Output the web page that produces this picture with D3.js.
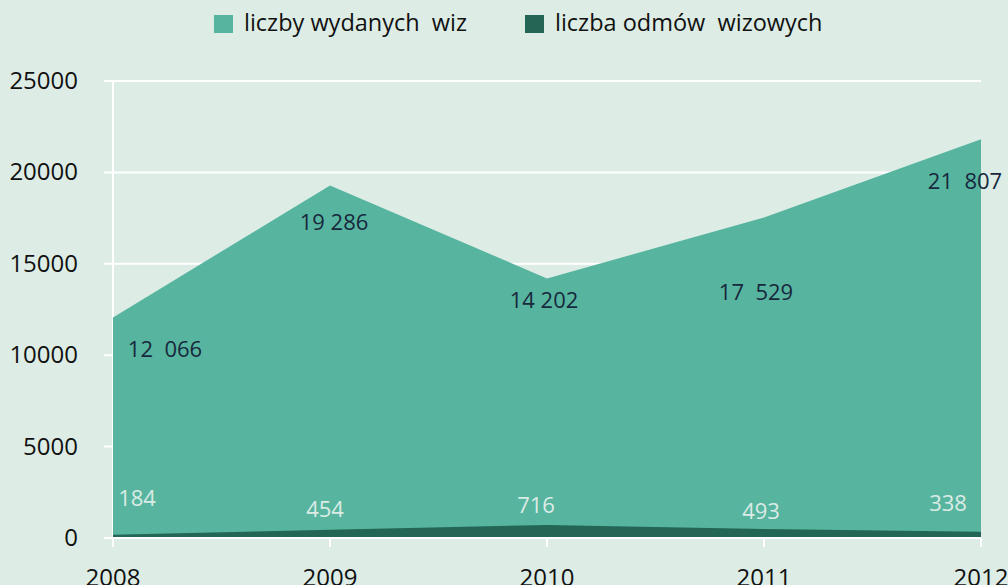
<!DOCTYPE html>
<html>
<head>
<meta charset="utf-8">
<script src="https://cdn.jsdelivr.net/npm/d3@7"></script>
<style>
  body { margin: 0; background: #ddede6; overflow: hidden; }
  text { font-family: "Open Sans", sans-serif; white-space: pre; }
</style>
</head>
<body>
<script>
// data
let years = [2008, 2009, 2010, 2011, 2012];
let issued = [12066, 19286, 14202, 17529, 21807];
let refused = [184, 454, 716, 493, 338];
let issuedLabels = ['12  066', '19 286', '14 202', '17  529', '21  807'];
let refusedLabels = ['184', '454', '716', '493', '338'];
let yTicks = [0, 5000, 10000, 15000, 20000, 25000];
let seriesNames = ['liczby wydanych  wiz', 'liczba odmów  wizowych'];

// label offsets relative to the data point (dx, dy)
let issuedOffsets = [[52, 40], [4, 45], [-3, 30], [-8, 82], [-16, 50]];
let refusedOffsets = [[24, -29], [-5, -13], [-11, -12], [-3, -10], [-33, -21]];

let width = 1008, height = 585;
let margin = {top: 81, right: 27, bottom: 47, left: 113};

let svg = d3.select('body').append('svg')
    .attr('width', width)
    .attr('height', height);

let x = d3.scaleLinear()
    .domain([2008, 2012])
    .range([margin.left, width - margin.right]);

let y = d3.scaleLinear()
    .domain([0, 25000])
    .range([height - margin.bottom, margin.top]);

//gridlines
svg.append('g')
    .selectAll('line')
    .data(yTicks)
    .enter()
    .append('line')
    .attr('x1', margin.left - 9)
    .attr('x2', x(2012))
    .attr('y1', d => y(d))
    .attr('y2', d => y(d))
    .attr('stroke', '#ffffff')
    .attr('stroke-width', 2);

//y axis line
svg.append('line')
    .attr('x1', margin.left).attr('x2', margin.left)
    .attr('y1', y(25000)).attr('y2', y(0) + 8)
    .attr('stroke', '#ffffff')
    .attr('stroke-width', 2);

let area = d3.area()
    .x((d, i) => x(years[i]))
    .y0(y(0))
    .y1(d => y(d));

svg.append('path')
    .datum(issued)
    .attr('d', area)
    .attr('fill', '#57b59f');

svg.append('path')
    .datum(refused)
    .attr('d', area)
    .attr('fill', '#236656');

//zero line and x ticks
svg.append('line')
    .attr('x1', margin.left - 9).attr('x2', x(2012))
    .attr('y1', y(0)).attr('y2', y(0))
    .attr('stroke', '#ffffff')
    .attr('stroke-width', 2);

svg.append('g')
    .selectAll('line')
    .data(years)
    .enter()
    .append('line')
    .attr('x1', d => x(d)).attr('x2', d => x(d))
    .attr('y1', y(0)).attr('y2', y(0) + 9)
    .attr('stroke', '#ffffff')
    .attr('stroke-width', 2);

//y tick labels
svg.append('g')
    .selectAll('text')
    .data(yTicks)
    .enter()
    .append('text')
    .attr('x', 78)
    .attr('y', d => y(d) + 8)
    .attr('text-anchor', 'end')
    .attr('font-size', 24)
    .attr('fill', '#111111')
    .text(d => d);

//x tick labels
svg.append('g')
    .selectAll('text')
    .data(years)
    .enter()
    .append('text')
    .attr('x', d => x(d))
    .attr('y', 586)
    .attr('text-anchor', 'middle')
    .attr('font-size', 24)
    .attr('fill', '#111111')
    .text(d => d);

//value labels
svg.append('g')
    .selectAll('text')
    .data(issued)
    .enter()
    .append('text')
    .attr('x', (d, i) => x(years[i]) + issuedOffsets[i][0])
    .attr('y', (d, i) => y(d) + issuedOffsets[i][1])
    .attr('text-anchor', 'middle')
    .attr('font-size', 22)
    .attr('fill', '#17283d')
    .text((d, i) => issuedLabels[i]);

svg.append('g')
    .selectAll('text')
    .data(refused)
    .enter()
    .append('text')
    .attr('x', (d, i) => x(years[i]) + refusedOffsets[i][0])
    .attr('y', (d, i) => y(d) + refusedOffsets[i][1])
    .attr('text-anchor', 'middle')
    .attr('font-size', 22)
    .attr('fill', '#dcebe6')
    .text((d, i) => refusedLabels[i]);

//legend
let legendColors = ['#57b59f', '#236656'];
let legendX = [214, 525];
let legend = svg.append('g')
    .selectAll('g')
    .data(seriesNames)
    .enter()
    .append('g')
    .attr('transform', (d, i) => `translate(${legendX[i]}, 15)`);

legend.append('rect')
    .attr('width', 19)
    .attr('height', 18)
    .attr('fill', (d, i) => legendColors[i]);

legend.append('text')
    .attr('x', 30)
    .attr('y', 16)
    .attr('font-size', 23.5)
    .attr('fill', '#111111')
    .text(d => d);
</script>
</body>
</html>
